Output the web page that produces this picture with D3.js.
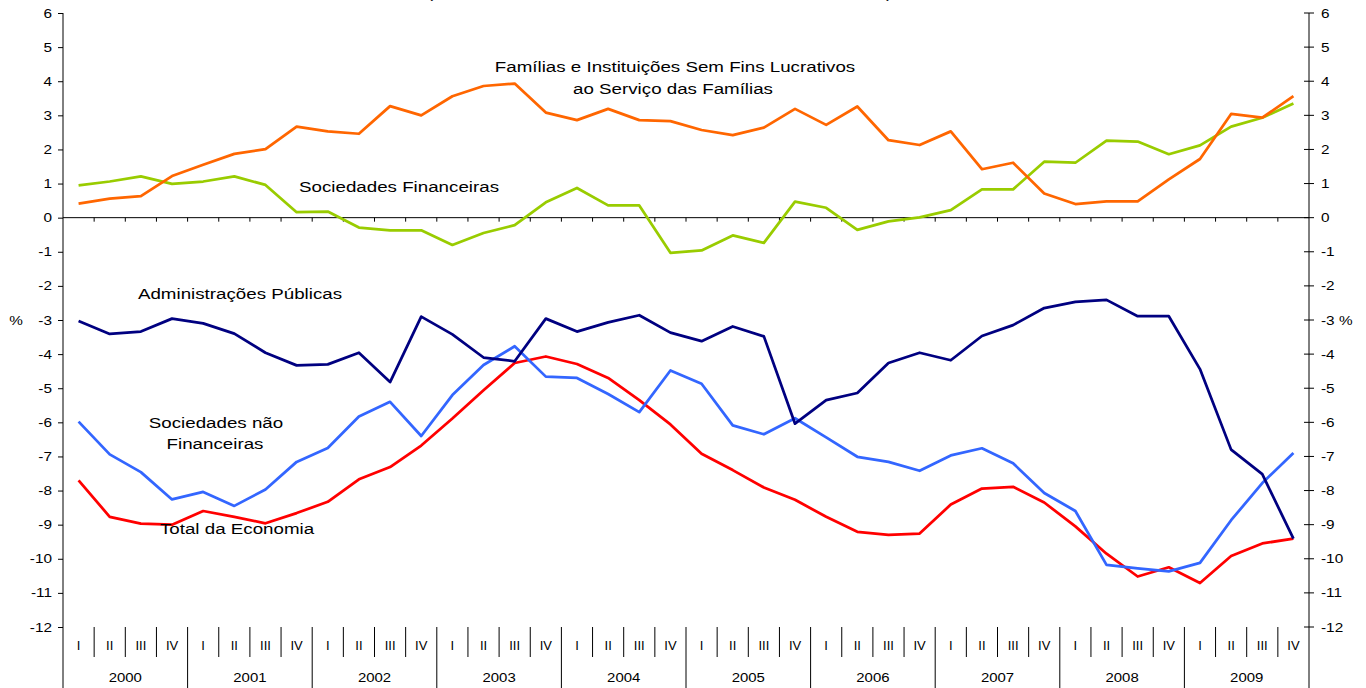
<!DOCTYPE html>
<html>
<head>
<meta charset="utf-8">
<script src="https://cdn.jsdelivr.net/npm/d3@7"></script>
<style>
  body { margin: 0; background: #fff; }
  text { font-family: "Liberation Sans", Arial, sans-serif; fill: #000; }
</style>
</head>
<body>
<div id="chart"></div>
<script>
var years = ["2000", "2001", "2002", "2003", "2004", "2005", "2006", "2007", "2008", "2009"];
var quarters = ["I", "II", "III", "IV"];
var yTicks = [6, 5, 4, 3, 2, 1, 0, -1, -2, -3, -4, -5, -6, -7, -8, -9, -10, -11, -12];

var familias = [0.41, 0.56, 0.63, 1.22, 1.55, 1.87, 2.01, 2.67, 2.53, 2.46, 3.27, 3.00, 3.56, 3.86, 3.93, 3.08, 2.86, 3.19, 2.86, 2.83,
    2.57, 2.42, 2.64, 3.19, 2.72, 3.26, 2.27, 2.13, 2.53, 1.42, 1.61, 0.71, 0.40, 0.48, 0.48, 1.12, 1.72, 3.04, 2.93, 3.56];
var financeiras = [0.95, 1.06, 1.21, 0.99, 1.06, 1.21, 0.96, 0.16, 0.18, -0.29, -0.37, -0.37, -0.80, -0.45, -0.22, 0.45, 0.87, 0.36, 0.36, -1.03,
    -0.96, -0.52, -0.74, 0.47, 0.29, -0.36, -0.11, 0.01, 0.22, 0.83, 0.83, 1.64, 1.61, 2.26, 2.23, 1.86, 2.12, 2.67, 2.93, 3.35];
var admPublicas = [-3.03, -3.41, -3.34, -2.96, -3.10, -3.40, -3.96, -4.33, -4.30, -3.96, -4.82, -2.90, -3.42, -4.10, -4.21, -2.96, -3.34, -3.07, -2.86, -3.37,
    -3.62, -3.19, -3.48, -6.04, -5.35, -5.14, -4.26, -3.96, -4.18, -3.47, -3.15, -2.65, -2.47, -2.41, -2.89, -2.89, -4.44, -6.80, -7.52, -9.41];
var naoFinanceiras = [-5.98, -6.94, -7.46, -8.26, -8.04, -8.45, -7.97, -7.16, -6.75, -5.83, -5.40, -6.40, -5.20, -4.32, -3.77, -4.66, -4.70, -5.17, -5.70, -4.48,
    -4.87, -6.09, -6.35, -5.88, -6.44, -7.01, -7.16, -7.42, -6.97, -6.76, -7.20, -8.07, -8.60, -10.18, -10.28, -10.37, -10.12, -8.87, -7.78, -6.90];
var totalEconomia = [-7.70, -8.77, -8.97, -9.00, -8.60, -8.77, -8.96, -8.66, -8.33, -7.67, -7.31, -6.68, -5.89, -5.06, -4.26, -4.07, -4.29, -4.70, -5.35, -6.06,
    -6.92, -7.40, -7.91, -8.27, -8.77, -9.21, -9.30, -9.26, -8.41, -7.94, -7.89, -8.35, -9.05, -9.85, -10.52, -10.25, -10.71, -9.92, -9.55, -9.41];

var series = [
    {name: "Total da Economia", values: totalEconomia, color: "#ff0000"},
    {name: "Sociedades não Financeiras", values: naoFinanceiras, color: "#3366ff"},
    {name: "Administrações Públicas", values: admPublicas, color: "#000080"},
    {name: "Sociedades Financeiras", values: financeiras, color: "#99cc00"},
    {name: "Famílias e Instituições Sem Fins Lucrativos ao Serviço das Famílias", values: familias, color: "#ff6600"}
];

var W = 1366, H = 688;
var plotL = 63, plotR = 1309, plotT = 13, plotB = 627;

// one key per quarter
var keys = [];
years.forEach(function (yr) {
    quarters.forEach(function (q) { keys.push(yr + "-" + q); });
});

var svg = d3.select("#chart").append("svg")
    .attr("width", W)
    .attr("height", H);

var x = d3.scaleBand().domain(keys).range([plotL, plotR]);
var y = d3.scaleLinear().domain([-12, 6]).range([plotB, plotT]);

// text helper, the original is a bit stretched horizontally
function stxt(px, py, str, size, anchor, sx) {
    return svg.append("text")
        .attr("transform", "translate(" + px + "," + py + ") scale(" + sx + ",1)")
        .attr("text-anchor", anchor)
        .style("font-size", size + "px")
        .text(str);
}

// title, cut off at the top of the picture
stxt(427, -2, "(", 15, "start", 1.25);
stxt(886, -2, ")", 15, "start", 1.25);

// left axis
var yl = svg.append("g")
    .attr("transform", "translate(" + plotL + ",0)")
    .call(d3.axisLeft(y).tickValues(yTicks).tickSize(5).tickFormat(d3.format("d")));
yl.select(".domain").remove();
yl.selectAll(".tick line").attr("stroke", "#000");
yl.selectAll(".tick text").remove();
yTicks.forEach(function (t) {
    stxt(plotL - 11, y(t) + 4.5, t, 13, "end", 1.18);
});

// right axis, ticks cross the line
var yr = svg.append("g")
    .attr("transform", "translate(" + plotR + ",0)");
yr.selectAll("line")
    .data(yTicks)
    .enter()
    .append("line")
    .attr("x1", -5).attr("x2", 5)
    .attr("y1", function (d) { return y(d); })
    .attr("y2", function (d) { return y(d); })
    .attr("stroke", "#000");
yTicks.forEach(function (t) {
    stxt(plotR + 12, y(t) + 4.5, t == -3 ? "-3 %" : t, 13, "start", 1.18);
});
stxt(16, y(-3) + 4.5, "%", 13, "middle", 1.18);

// vertical axis lines run down to the bottom of the category table
svg.append("line").attr("x1", plotL).attr("x2", plotL).attr("y1", y(6)).attr("y2", H).attr("stroke", "#000");
svg.append("line").attr("x1", plotR).attr("x2", plotR).attr("y1", y(6)).attr("y2", H).attr("stroke", "#000");

// zero line with quarter ticks
svg.append("line").attr("x1", plotL).attr("x2", plotR).attr("y1", y(0)).attr("y2", y(0)).attr("stroke", "#000");
svg.append("g").selectAll("line")
    .data(keys.slice(1))
    .enter()
    .append("line")
    .attr("x1", function (d) { return x(d); })
    .attr("x2", function (d) { return x(d); })
    .attr("y1", y(0)).attr("y2", y(0) + 4)
    .attr("stroke", "#000");

// category table: quarter and year separators
svg.append("g").selectAll("line")
    .data(keys.slice(1))
    .enter()
    .append("line")
    .attr("x1", function (d) { return x(d); })
    .attr("x2", function (d) { return x(d); })
    .attr("y1", plotB)
    .attr("y2", function (d) { return d.slice(-2) == "-I" ? H : plotB + 30; })
    .attr("stroke", "#000");
keys.forEach(function (k) {
    stxt(x(k) + x.bandwidth() / 2, plotB + 23, k.split("-")[1], 13, "middle", 1.0);
});
years.forEach(function (yr) {
    var x0 = x(yr + "-I"), x1 = x(yr + "-IV") + x.bandwidth();
    stxt((x0 + x1) / 2, 682, yr, 13, "middle", 1.15);
});

// lines
var line = d3.line()
    .x(function (d, i) { return x(keys[i]) + x.bandwidth() / 2; })
    .y(function (d) { return y(d); });

svg.append("g").selectAll("path")
    .data(series)
    .enter()
    .append("path")
    .attr("d", function (d) { return line(d.values); })
    .attr("fill", "none")
    .attr("stroke", function (d) { return d.color; })
    .attr("stroke-width", 2.75)
    .attr("stroke-linejoin", "round");

// series labels
stxt(675, 72, "Famílias e Instituições Sem Fins Lucrativos", 15, "middle", 1.25);
stxt(673, 94, "ao Serviço das Famílias", 15, "middle", 1.25);
stxt(399, 192, "Sociedades Financeiras", 15, "middle", 1.25);
stxt(240, 299, "Administrações Públicas", 15, "middle", 1.25);
stxt(216, 428, "Sociedades não", 15, "middle", 1.25);
stxt(215, 449, "Financeiras", 15, "middle", 1.25);
stxt(237, 534, "Total da Economia", 15, "middle", 1.25);
</script>
</body>
</html>
